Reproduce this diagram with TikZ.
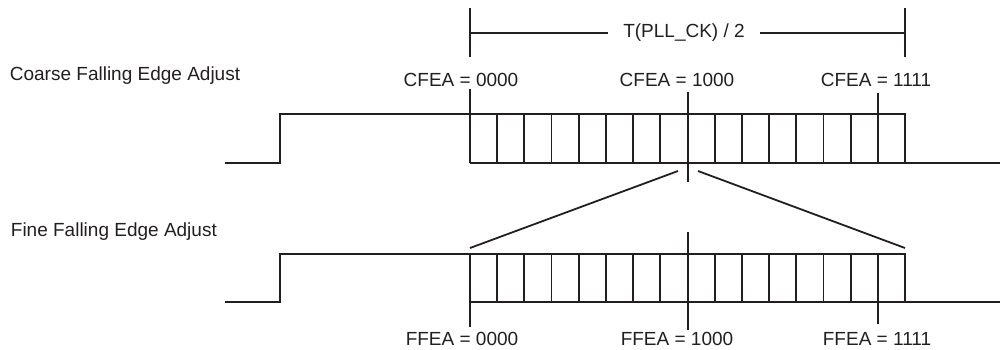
\documentclass[tikz,border=0pt]{standalone}
\usepackage{fontspec}
\setmainfont{Liberation Sans}
\definecolor{ink}{HTML}{231F20}
\begin{document}
\begin{tikzpicture}[x=1pt,y=-1pt,
  line width=1.8pt,
  wave/.style={draw=ink, line join=miter},
  tick/.style={draw=ink},
  lbl/.style={text=ink, font=\fontsize{19}{22}\selectfont, inner sep=0pt, anchor=base}]
\useasboundingbox (0,0) rectangle (1001,349);

% ---- Section titles
\node[lbl, anchor=base west] (coarseT) at (9,80) {Coarse Falling Edge Adjust};
\node[lbl, anchor=base west] (fineT) at (10,236) {Fine Falling Edge Adjust};

% ---- Half-period bracket
\coordinate (bL1) at (470,8);  \coordinate (bL2) at (470,57);
\coordinate (bR1) at (905,8);  \coordinate (bR2) at (905,57);
\coordinate (bLm) at (470,33); \coordinate (bRm) at (905,33);
\node[text=ink, font=\fontsize{19}{22}\selectfont, inner ysep=0pt, inner xsep=14pt] (half) at (684,33) {T(PLL\_CK) / 2};
\draw[tick] (bL1) -- (bL2);
\draw[tick] (bR1) -- (bR2);
\draw[tick] (bLm) -- (half.west);
\draw[tick] (half.east) -- (bRm);

% ---- Coarse waveform (16 steps)
\draw[wave] (225,163) -- (280,163) -- (280,114) -- (905,114) -- (905,163);
\draw[wave] (470,163) -- (1000,163);
\foreach \i in {0,...,15}
  \draw[tick] ({470+27.1875*\i},114) -- ++(0,49);

% coarse setting labels and markers
\node[lbl] (c0) at (461,86) {CFEA = 0000};
\node[lbl] (c8) at (677,86) {CFEA = 1000};
\node[lbl] (cF) at (876,86) {CFEA = 1111};
\coordinate (c0a) at (470,89);  \coordinate (c0b) at (470,114);
\coordinate (c8a) at (688,92);  \coordinate (c8b) at (688,182);
\coordinate (cFa) at (878,93);  \coordinate (cFb) at (878,114);
\draw[tick] (c0a) -- (c0b);
\draw[tick] (c8a) -- (c8b);
\draw[tick] (cFa) -- (cFb);

% ---- Zoom fan from one coarse step to the fine scale
\coordinate (fanL1) at (678,171); \coordinate (fanL2) at (470,248);
\coordinate (fanR1) at (698,171); \coordinate (fanR2) at (905,248);
\draw[tick] (fanL1) -- (fanL2);
\draw[tick] (fanR1) -- (fanR2);

% ---- Fine waveform (16 steps)
\draw[wave] (225,302) -- (280,302) -- (280,254) -- (905,254) -- (905,302);
\draw[wave] (470,302) -- (1000,302);
\foreach \i in {0,...,15}
  \draw[tick] ({470+27.1875*\i},254) -- ++(0,48);

% fine setting labels and markers
\coordinate (f0a) at (470,302); \coordinate (f0b) at (470,327);
\coordinate (f8a) at (688,232); \coordinate (f8b) at (688,330);
\coordinate (fFa) at (878,302); \coordinate (fFb) at (878,324);
\draw[tick] (f0a) -- (f0b);
\draw[tick] (f8a) -- (f8b);
\draw[tick] (fFa) -- (fFb);
\node[lbl] (f0) at (462,345) {FFEA = 0000};
\node[lbl] (f8) at (677,345) {FFEA = 1000};
\node[lbl] (fF) at (877,345) {FFEA = 1111};
\end{tikzpicture}
\end{document}
